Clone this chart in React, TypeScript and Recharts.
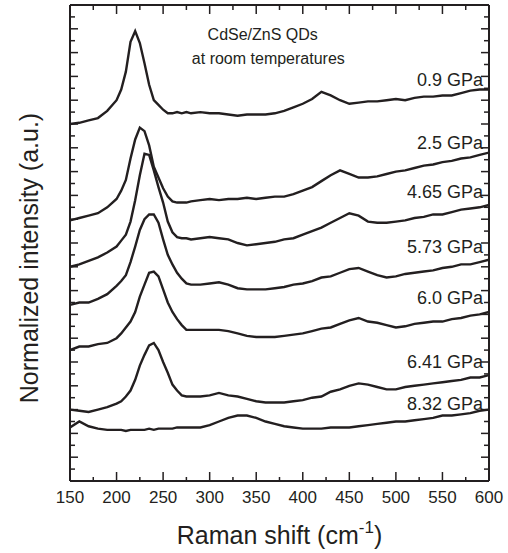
import { LineChart, Line, XAxis, YAxis, ReferenceDot } from "recharts";

// Raman shift (cm-1) grid the curves were read at
const ramanShift = [
  150, 160, 170, 180, 190, 200, 205, 210, 215, 220, 225, 230, 235, 240, 245, 250, 255, 260, 265, 270, 275, 280,
  290, 300, 310, 320, 330, 340, 350, 360, 370, 380, 390, 400, 410, 420, 430, 440, 450, 460, 470, 480, 490, 500,
  510, 520, 530, 540, 550, 560, 570, 580, 590, 600,
];

// stacked spectra, offset units (one minor y tick = 1)
const p09 = [
  30.0, 30.1, 30.3, 30.5, 31.1, 32.0, 32.9, 34.4, 36.9, 37.8, 36.8, 35.1, 33.3, 32.0, 31.6, 31.2, 30.9, 30.9, 31.0, 30.9, 31.0, 30.9,
  31.0, 30.9, 30.9, 30.8, 30.7, 30.8, 30.8, 30.8, 30.9, 31.1, 31.4, 31.7, 32.1, 32.7, 32.4, 32.0, 31.7, 31.8, 31.9, 31.9, 32.0, 32.1,
  32.0, 32.2, 32.3, 32.3, 32.4, 32.4, 32.6, 32.8, 32.9, 32.9,
];
const p25 = [
  21.9, 22.1, 22.3, 22.5, 23.0, 23.7, 24.4, 25.3, 27.1, 28.7, 29.7, 29.4, 28.2, 26.4, 25.5, 24.6, 23.9, 23.5, 23.4, 23.4, 23.4, 23.5,
  23.6, 23.7, 23.6, 23.7, 23.7, 23.8, 23.7, 23.8, 23.9, 23.9, 24.1, 24.4, 24.7, 25.2, 25.7, 26.1, 25.8, 25.5, 25.5, 25.6, 25.8, 26.0,
  26.1, 26.3, 26.5, 26.6, 26.8, 26.9, 27.1, 27.2, 27.4, 27.6,
];
const p465 = [
  18.0, 18.2, 18.5, 18.8, 19.2, 19.7, 20.2, 20.7, 21.8, 23.6, 25.7, 27.5, 27.4, 26.1, 24.7, 23.4, 21.8, 20.9, 20.5, 20.4, 20.4, 20.3,
  20.4, 20.5, 20.4, 20.3, 20.0, 19.8, 19.9, 20.0, 20.1, 20.3, 20.4, 20.7, 21.0, 21.3, 21.7, 22.1, 22.5, 22.3, 21.8, 21.7, 21.7, 21.8,
  21.9, 22.1, 22.2, 22.4, 22.4, 22.6, 22.8, 22.9, 23.0, 23.2,
];
const p573 = [
  14.8, 15.0, 15.0, 15.3, 15.7, 16.4, 16.8, 17.3, 18.4, 19.7, 21.1, 22.0, 22.4, 22.4, 21.7, 20.3, 19.0, 18.2, 17.5, 17.0, 16.6, 16.5,
  16.5, 16.6, 16.7, 16.5, 16.2, 16.1, 16.1, 16.1, 16.2, 16.3, 16.5, 16.6, 16.8, 17.1, 17.2, 17.5, 17.8, 17.9, 17.6, 17.3, 17.1, 17.2,
  17.4, 17.5, 17.6, 17.7, 17.9, 18.0, 18.2, 18.2, 18.4, 18.6,
];
const p60 = [
  11.0, 11.3, 11.3, 11.5, 11.6, 12.0, 12.4, 12.9, 13.4, 14.2, 15.5, 16.5, 17.5, 17.6, 17.2, 16.1, 15.0, 14.2, 13.6, 13.1, 12.7, 12.7,
  12.7, 12.7, 12.7, 12.6, 12.4, 12.2, 12.1, 12.1, 12.1, 12.2, 12.3, 12.4, 12.6, 12.8, 12.9, 13.2, 13.5, 13.7, 13.4, 13.3, 13.1, 12.9,
  13.0, 13.2, 13.3, 13.4, 13.4, 13.6, 13.7, 13.9, 14.0, 14.2,
];
const p641 = [
  6.0, 5.9, 5.8, 6.0, 6.2, 6.5, 6.7, 7.1, 7.6, 8.5, 9.7, 10.6, 11.4, 11.6, 11.0, 10.0, 9.1, 8.1, 7.6, 7.2, 7.1, 7.1,
  7.1, 7.2, 7.4, 7.2, 7.1, 6.9, 6.7, 6.6, 6.6, 6.6, 6.7, 6.8, 7.0, 7.1, 7.5, 7.7, 8.0, 8.2, 8.1, 7.9, 7.7, 7.7,
  7.9, 8.0, 8.1, 8.2, 8.3, 8.4, 8.5, 8.7, 8.7, 8.9,
];
const p832 = [
  4.5, 5.0, 4.6, 4.4, 4.3, 4.3, 4.3, 4.2, 4.3, 4.3, 4.3, 4.3, 4.4, 4.3, 4.4, 4.4, 4.4, 4.4, 4.5, 4.5, 4.5, 4.5,
  4.5, 4.7, 5.0, 5.3, 5.5, 5.5, 5.3, 5.0, 4.8, 4.6, 4.5, 4.4, 4.4, 4.4, 4.5, 4.5, 4.5, 4.6, 4.7, 4.8, 4.9, 5.0,
  5.0, 5.1, 5.2, 5.3, 5.5, 5.5, 5.6, 5.7, 5.9, 6.0,
];

const seriesKeys = ["p09", "p25", "p465", "p573", "p60", "p641"];
const pressureLabels = ["0.9 GPa", "2.5 GPa", "4.65 GPa", "5.73 GPa", "6.0 GPa", "6.41 GPa", "8.32 GPa"];
const labelLevels = [33.7, 28.4, 24.3, 19.7, 15.4, 10.0, 6.5];

const xTicks = [150, 175, 200, 225, 250, 275, 300, 325, 350, 375, 400, 425, 450, 475, 500, 525, 550, 575, 600];
const yTicks = Array.from({ length: 41 }, (_, i) => i);

const data = ramanShift.map((x, i) => ({
  x,
  p09: p09[i],
  p25: p25[i],
  p465: p465[i],
  p573: p573[i],
  p60: p60[i],
  p641: p641[i],
  p832: p832[i],
}));

const ink = "#231f20";
const font = "'Liberation Sans', Arial, sans-serif";

function BottomTick({ x, y, payload }: any) {
  const major = payload.value % 50 === 0;
  return (
    <g>
      <line x1={x} x2={x} y1={y} y2={y - (major ? 9 : 4)} stroke={ink} strokeWidth={1.5} />
      {major && (
        <text x={x} y={y + 22} textAnchor="middle" fontSize={17} fontFamily={font} fill={ink}>
          {payload.value}
        </text>
      )}
    </g>
  );
}

function TopTick({ x, y, payload }: any) {
  const major = payload.value % 50 === 0;
  return <line x1={x} x2={x} y1={y} y2={y + (major ? 9 : 5)} stroke={ink} strokeWidth={1.5} />;
}

function LeftTick({ x, y, payload }: any) {
  const major = payload.value % 2 === 0;
  return <line x1={x} x2={x + (major ? 8 : 5)} y1={y} y2={y} stroke={ink} strokeWidth={1.5} />;
}

function RightTick({ x, y, payload }: any) {
  const major = payload.value % 2 === 0;
  return <line x1={x} x2={x - (major ? 8 : 5)} y1={y} y2={y} stroke={ink} strokeWidth={1.5} />;
}

function XTitle({ viewBox }: any) {
  const cx = viewBox.x + viewBox.width / 2;
  return (
    <text x={cx} y={viewBox.y + 63} textAnchor="middle" fontSize={25} fontFamily={font} fill={ink}>
      Raman shift (cm
      <tspan dy={-11} fontSize={17}>-1</tspan>
      <tspan dy={11}>)</tspan>
    </text>
  );
}

function YTitle({ viewBox }: any) {
  const cx = 29;
  const cy = viewBox.y + viewBox.height / 2 + 15;
  return (
    <text
      x={cx}
      y={cy}
      transform={`rotate(-90, ${cx}, ${cy})`}
      textAnchor="middle"
      dominantBaseline="central"
      fontSize={25}
      fontFamily={font}
      fill={ink}
    >
      Normalized intensity (a.u.)
    </text>
  );
}

const rightText = (text: string) => ({ viewBox }: any) => (
  <text x={viewBox.x - 6} y={viewBox.y} textAnchor="end" dominantBaseline="central" fontSize={18} fontFamily={font} fill={ink}>
    {text}
  </text>
);

const noteText = (text: string) => ({ viewBox }: any) => (
  <text x={viewBox.x} y={viewBox.y} textAnchor="middle" dominantBaseline="central" fontSize={16} fontFamily={font} fill={ink}>
    {text}
  </text>
);

export default function App() {
  return (
    <div style={{ position: "absolute", left: 0, top: 0, background: "#fff" }}>
      <LineChart width={508} height={553} data={data} margin={{ top: 4, right: 18, bottom: 0, left: 0 }}>
        <XAxis
          dataKey="x"
          type="number"
          domain={[150, 600]}
          ticks={xTicks}
          interval={0}
          height={72}
          tickSize={0}
          tickMargin={0}
          tick={<BottomTick />}
          tickLine={false}
          axisLine={{ stroke: ink, strokeWidth: 2 }}
          allowDataOverflow
          label={XTitle}
        />
        <XAxis
          xAxisId="top"
          dataKey="x"
          orientation="top"
          type="number"
          domain={[150, 600]}
          ticks={xTicks}
          interval={0}
          height={1}
          tickSize={0}
          tickMargin={0}
          tick={<TopTick />}
          tickLine={false}
          axisLine={{ stroke: ink, strokeWidth: 2 }}
          allowDataOverflow
        />
        <YAxis
          type="number"
          domain={[0, 40]}
          ticks={yTicks}
          interval={0}
          width={70}
          tickSize={0}
          tickMargin={0}
          tick={<LeftTick />}
          tickLine={false}
          axisLine={{ stroke: ink, strokeWidth: 2 }}
          allowDataOverflow
          label={YTitle}
        />
        <YAxis
          yAxisId="right"
          orientation="right"
          type="number"
          domain={[0, 40]}
          ticks={yTicks}
          interval={0}
          width={1}
          tickSize={0}
          tickMargin={0}
          tick={<RightTick />}
          tickLine={false}
          axisLine={{ stroke: ink, strokeWidth: 2 }}
          allowDataOverflow
        />

        {seriesKeys.map((k) => (
          <Line
            key={k}
            dataKey={k}
            type="linear"
            stroke={ink}
            strokeWidth={2.4}
            dot={false}
            isAnimationActive={false}
          />
        ))}
        {/* same domains on the mirrored axes, so the last spectrum lives there and keeps them drawn */}
        <Line
          xAxisId="top"
          yAxisId="right"
          dataKey="p832"
          type="linear"
          stroke={ink}
          strokeWidth={2.4}
          dot={false}
          isAnimationActive={false}
        />

        {pressureLabels.map((t, i) => (
          <ReferenceDot key={t} x={600} y={labelLevels[i]} r={0} fill="none" stroke="none" label={rightText(t)} />
        ))}
        <ReferenceDot x={357} y={37.5} r={0} fill="none" stroke="none" label={noteText("CdSe/ZnS QDs")} />
        <ReferenceDot x={363} y={35.5} r={0} fill="none" stroke="none" label={noteText("at room temperatures")} />
      </LineChart>
    </div>
  );
}
